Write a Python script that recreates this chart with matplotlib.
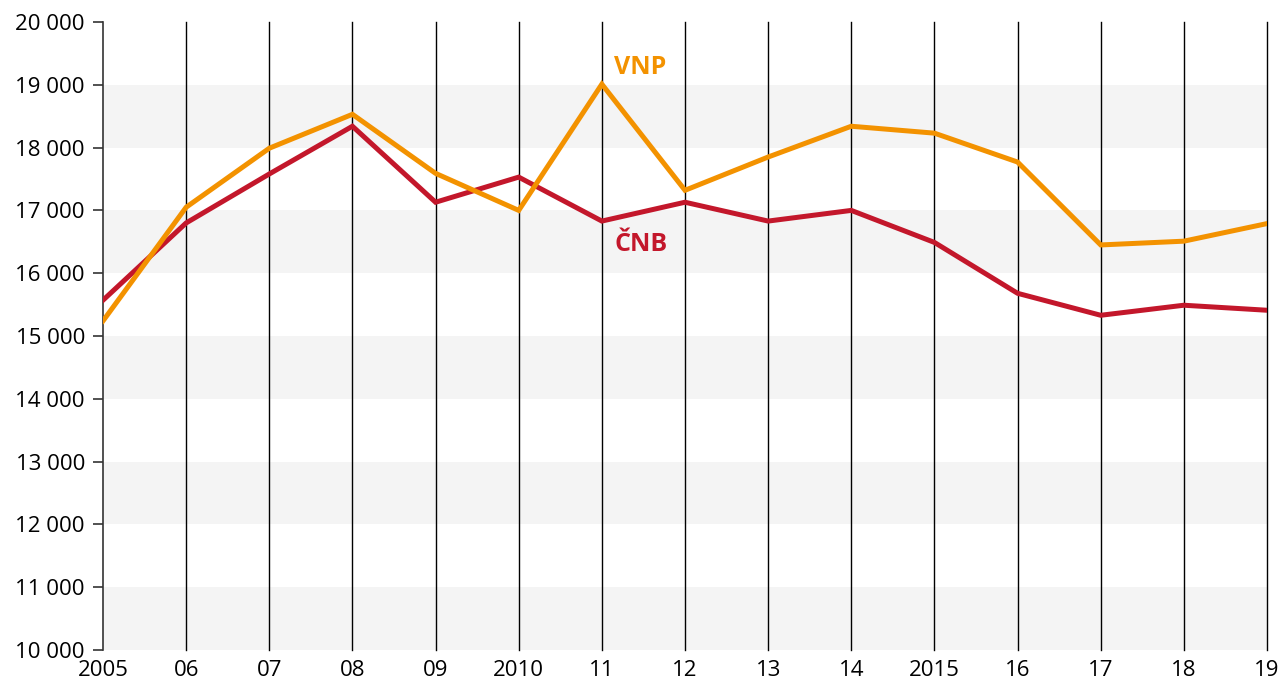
import matplotlib.pyplot as plt

years = list(range(2005, 2020))
tick_labels = ['2005', '06', '07', '08', '09', '2010', '11', '12', '13', '14',
               '2015', '16', '17', '18', '19']
vnp = [15240, 17050, 17990, 18530, 17590, 17000, 19010, 17320, 17850, 18340,
       18230, 17770, 16450, 16510, 16790]
cnb = [15570, 16800, 17580, 18340, 17130, 17530, 16830, 17130, 16830, 17000,
       16490, 15680, 15330, 15490, 15410]

orange = '#F39200'
red = '#C3172B'

plt.rcParams['font.family'] = ['Open Sans', 'DejaVu Sans']

fig = plt.figure(figsize=(12.82, 6.81), dpi=100)
ax = fig.add_axes([103 / 1282, 31 / 681, (1267 - 103) / 1282, (650 - 22) / 681])

# alternating grey bands
for lo in range(10000, 20000, 2000):
    ax.axhspan(lo, lo + 1000, color='#f4f4f4', lw=0, zorder=0)

for yr in years[1:]:
    ax.axvline(yr, color='black', lw=1, zorder=1, clip_on=False)

ax.plot(years, cnb, color=red, lw=3.6, zorder=3, solid_joinstyle='miter')
ax.plot(years, vnp, color=orange, lw=3.6, zorder=4, solid_joinstyle='miter')

ax.text(2011.15, 19280, 'VNP', color=orange, fontsize=18, fontweight='bold',
        va='center', ha='left')
ax.text(2011.15, 16460, 'ČNB', color=red, fontsize=18, fontweight='bold',
        va='center', ha='left')

ax.set_xlim(2005, 2019)
ax.set_ylim(10000, 20000)
ax.set_yticks(range(10000, 20001, 1000))
ax.set_yticklabels([f'{v:,}'.replace(',', ' ') for v in range(10000, 20001, 1000)])
ax.set_xticks(years)
ax.set_xticklabels(tick_labels)

for s in ['top', 'right', 'bottom']:
    ax.spines[s].set_visible(False)
ax.spines['left'].set_color('#333333')
ax.spines['left'].set_linewidth(1.2)
ax.tick_params(axis='y', length=7, width=1.2, color='#333333', labelsize=16, pad=6)
ax.tick_params(axis='x', length=0, labelsize=16, pad=7)

fig.savefig('out.png', dpi=100)
